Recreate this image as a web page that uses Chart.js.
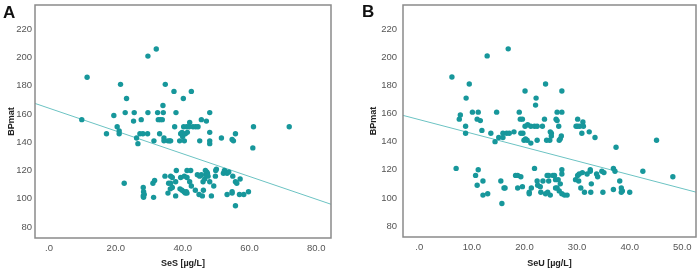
<!DOCTYPE html>
<html>
<head>
<meta charset="utf-8">
<script src="https://cdn.jsdelivr.net/npm/chart.js@4.4.1/dist/chart.umd.min.js"></script>
<style>
  body { margin: 0; background: #fff; }
  #wrap { position: relative; width: 700px; height: 276px; }
  canvas { position: absolute; top: 0; }
  .panel { position: absolute; font: bold 17px "Liberation Sans", Arial, sans-serif; line-height: 1; color: #111; }
</style>
</head>
<body>
<div id="wrap">
  <canvas id="chartA" width="350" height="276" style="left:0"></canvas>
  <canvas id="chartB" width="350" height="276" style="left:350px"></canvas>
  <div class="panel" style="left:3px;top:4px">A</div>
  <div class="panel" style="left:362px;top:3px">B</div>
</div>
<script>
// values: [SeS or SeU, BPmat]
const pointsA = [
  [9.8,156],[11.4,186],[17.2,146],[19.4,159],[20.4,151],[21.0,148],[21.0,146],[21.4,181],[22.8,161],[23.2,171],
  [25.3,155],[25.5,161],[26.2,143],[26.6,139],[27.2,146],[27.6,156],[28.1,146],[29.5,146],[29.6,161],[29.6,201],
  [31.4,141],[32.1,206],[32.5,161],[32.7,156],[33.1,146],[33.3,156],[33.9,156],[34.1,166],[34.2,161],[34.4,143],
  [34.4,141],[34.8,181],[35.6,141],[36.1,141],[36.4,141],[37.4,176],[37.6,151],[38.0,161],[39.1,141],[39.4,146],
  [39.8,147],[40.0,144],[40.2,171],[40.3,151],[40.5,141],[40.8,146],[41.2,151],[41.4,147],[41.9,151],[42.1,154],
  [42.6,176],[43.1,151],[43.9,151],[44.6,151],[45.1,141],[45.6,156],[47.1,155],[48.1,161],[48.1,147],[48.1,141],
  [48.1,139],[51.6,143],[54.8,142],[55.2,141],[55.8,146],[61.2,151],[61.0,136],[71.9,151],
  [22.5,111],[28.2,108],[28.3,105],[28.2,102],[28.5,103],[28.3,101],[31.1,111],[31.6,113],[31.3,101],[34.7,116],
  [35.6,104],[35.8,111],[36.4,111],[36.3,107],[36.4,116],[36.9,115],[36.9,108],[37.9,112],[37.9,102],[38.1,120],
  [39.4,115],[39.2,107],[39.8,106],[40.4,105],[40.8,104],[41.3,104],[41.1,105],[40.5,116],[41.3,120],[41.3,115],
  [42.4,120],[42.1,112],[42.6,109],[43.8,106],[44.4,117],[45.1,116],[45.6,117],[44.9,103],[45.9,102],[46.1,112],
  [46.6,114],[46.2,106],[47.0,117],[47.2,119],[47.4,118],[47.6,116],[46.8,120],[48.1,112],[48.6,102],[49.8,116],
  [49.9,120],[50.1,121],[49.3,109],[52.2,118],[52.8,119],[53.3,118],[52.5,120],[53.8,119],[53.3,103],[55.0,116],
  [54.8,105],[54.8,104],[55.8,112],[56.2,111],[55.8,95],[57.2,114],[57.0,103],[58.3,103],[59.7,105]
];
const pointsB = [
  [6.2,186],[7.0,121],[7.6,156],[7.8,159],[8.9,171],[8.8,151],[8.8,146],[9.5,181],[10.1,161],[11.2,161],
  [11.0,156],[11.6,155],[11.9,148],[10.7,116],[11.2,120],[11.0,109],[12.1,112],[12.1,102],[13.0,103],[12.9,201],
  [13.6,146],[14.4,140],[14.7,161],[15.1,143],[15.5,112],[15.7,96],[15.9,146],[15.9,143],[16.1,107],[16.3,107],
  [16.6,146],[17.1,146],[16.9,206],[18.0,147],[18.3,116],[18.7,116],[19.3,115],[18.7,107],[19.0,161],[19.2,156],
  [19.6,156],[19.3,146],[19.7,146],[19.6,108],[19.9,141],[20.2,142],[20.5,141],[20.1,151],[20.6,152],[21.2,151],
  [21.9,151],[20.1,176],[20.9,104],[20.9,103],[21.3,107],[21.2,139],[21.9,121],[22.2,171],[22.1,166],[22.4,151],
  [22.4,141],[22.4,112],[22.5,109],[23.1,104],[23.0,108],[23.4,151],[23.5,112],[24.0,181],[23.8,156],[24.2,141],
  [24.3,116],[24.6,116],[24.0,103],[24.4,104],[24.6,112],[24.8,141],[24.9,147],[25.1,146],[25.1,144],[24.9,102],
  [25.4,116],[25.7,116],[26.0,156],[26.2,155],[26.5,151],[26.2,161],[25.9,113],[26.4,113],[25.9,107],[26.2,107],
  [26.6,105],[26.6,141],[26.8,142],[27.0,144],[27.1,176],[27.1,161],[27.1,120],[27.1,117],[26.8,110],[27.1,103],
  [27.6,102],[28.1,102],[29.7,113],[29.8,151],[30.1,151],[30.5,151],[30.1,156],[30.3,112],[30.1,116],[30.4,117],
  [30.9,146],[30.7,107],[31.1,154],[31.2,151],[31.0,118],[31.4,104],[31.9,117],[32.3,147],[32.5,120],[32.5,119],
  [32.6,104],[32.7,110],[33.4,143],[33.7,117],[33.9,115],[34.9,104],[34.7,119],[35.1,118],[36.9,121],[37.2,119],
  [36.9,106],[37.4,136],[38.1,112],[38.4,107],[38.6,105],[38.4,104],[40.0,104],[42.5,119],[45.1,141],[48.2,115]
];
// regression line ends, read at the plot edges
const fitA = [[-4.2,167.5],[84.4,96.1]];
const fitB = [[-3.1,158.7],[52.6,104.1]];

const xRangeA = [-4.2, 84.4];
const xRangeB = [-3.1, 52.6];
const yRange = [72.2, 237.2];
const xStepA = 20;
const xStepB = 10;
const yStep = 20;

const dotColor = '#17979b';
const lineColor = '#6cc3c3';
const fontFamily = '"Liberation Sans", Arial, sans-serif';

const boxPlugin = {
  id: 'box',
  afterDraw(chart) {
    const a = chart.chartArea;
    const ctx = chart.ctx;
    ctx.save();
    ctx.strokeStyle = '#8a8a8a';
    ctx.lineWidth = 1.5;
    ctx.strokeRect(a.left, a.top, a.right - a.left, a.bottom - a.top);
    ctx.restore();
  }
};

function makeChart(id, points, fit, xRange, xStep, xTitle, cfg) {
  const ctx = document.getElementById(id).getContext('2d');
  return new Chart(ctx, {
    type: 'scatter',
    data: {
      datasets: [{
        data: points.map(p => ({x: p[0], y: p[1]})),
        backgroundColor: dotColor,
        borderWidth: 0,
        pointRadius: 2.7
      }, {
        type: 'line',
        data: fit.map(p => ({x: p[0], y: p[1]})),
        borderColor: lineColor,
        borderWidth: 1,
        pointRadius: 0,
        fill: false
      }]
    },
    options: {
      responsive: false,
      animation: false,
      layout: { padding: { left: 0, right: cfg.right, top: 5, bottom: 0 } },
      plugins: { legend: { display: false }, tooltip: { enabled: false } },
      scales: {
        x: {
          type: 'linear',
          min: xRange[0],
          max: xRange[1],
          grid: { display: false, drawTicks: false },
          border: { display: false },
          afterFit: s => {
            s.height = cfg.xHeight;
            s.paddingLeft = 0;
            s.paddingRight = 0;
          },
          ticks: {
            stepSize: xStep,
            includeBounds: false,
            padding: 5,
            color: '#555',
            font: { family: fontFamily, size: 9.5 },
            callback: v => v === 0 ? '.0' : v.toFixed(1)
          },
          title: {
            display: true,
            text: xTitle,
            color: '#222',
            padding: { top: 0, bottom: 7.5 },
            font: { family: fontFamily, size: 9, weight: 'bold' }
          }
        },
        y: {
          min: yRange[0],
          max: yRange[1],
          grid: { display: false, drawTicks: false },
          border: { display: false },
          afterFit: s => {
            s.width = cfg.yWidth;
            s.paddingTop = 0;
            s.paddingBottom = 0;
          },
          ticks: {
            stepSize: yStep,
            includeBounds: false,
            padding: cfg.yPad,
            color: '#555',
            font: { family: fontFamily, size: 9.5 }
          },
          title: {
            display: true,
            text: 'BPmat',
            color: '#222',
            padding: { top: cfg.titlePad, bottom: 0 },
            font: { family: fontFamily, size: 9, weight: 'bold' }
          }
        }
      }
    },
    plugins: [boxPlugin]
  });
}

makeChart('chartA', pointsA, fitA, xRangeA, xStepA, 'SeS [µg/L]',
  { right: 19, xHeight: 38, yWidth: 35, yPad: 3, titlePad: 6.5 });
makeChart('chartB', pointsB, fitB, xRangeB, xStepB, 'SeU [µg/L]',
  { right: 3, xHeight: 39, yWidth: 53, yPad: 6, titlePad: 18.5 });
</script>
</body>
</html>
